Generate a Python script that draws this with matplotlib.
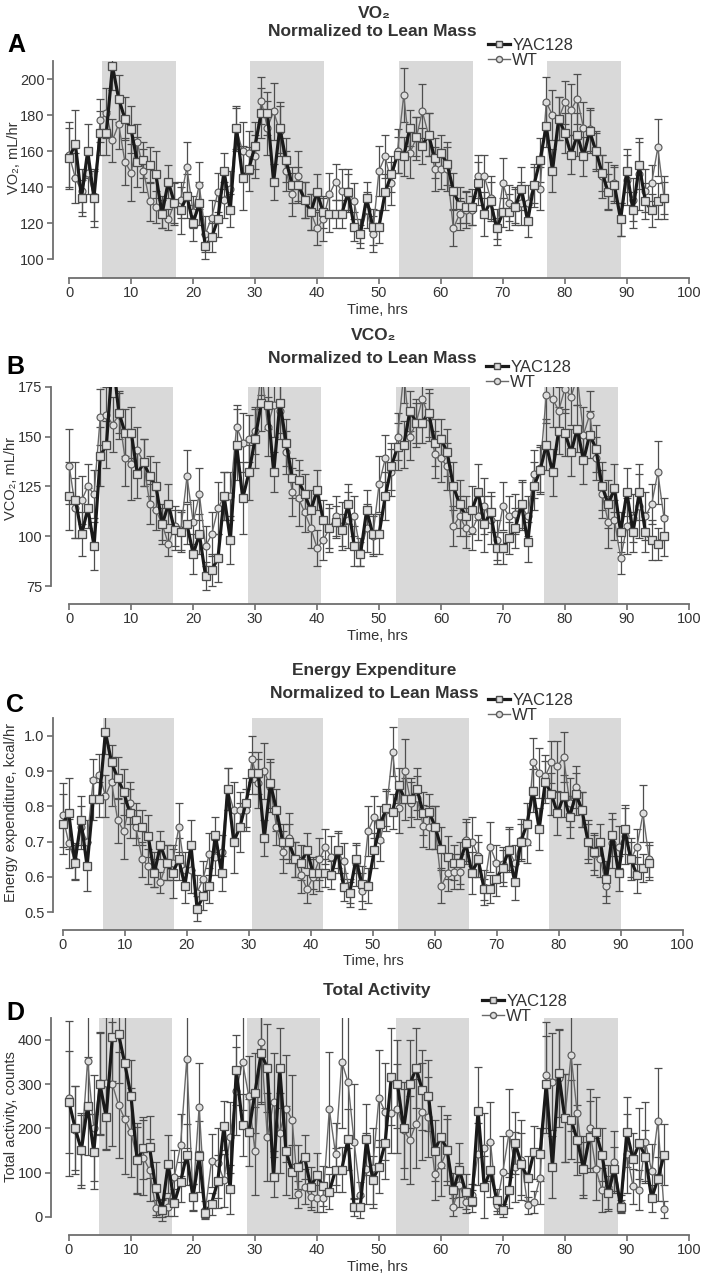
import numpy as np
import matplotlib
matplotlib.use("Agg")
import matplotlib.pyplot as plt
from matplotlib.lines import Line2D
from matplotlib.ticker import FormatStrFormatter

plt.rcParams['font.family'] = ['Liberation Sans', 'DejaVu Sans']

hours = np.arange(97)
hours_C = np.linspace(0, 94.6, 97)

dark_A = [(5.3, 17.2), (29.2, 41.1), (53.3, 65.1), (77.1, 89.0)]
dark_B = [(4.9, 16.7), (28.8, 40.6), (52.8, 64.7), (76.7, 88.5)]
dark_C = [(6.5, 18.0), (30.5, 42.0), (54.1, 65.6), (78.5, 90.0)]
dark_D = [(4.9, 16.7), (28.7, 40.5), (52.8, 64.6), (76.7, 88.5)]

vo2_yac = [156,164,134,160,134,170,170,207,189,178,
           172,154,155,152,147,125,143,131,127,135,
           120,131,107,112,122,149,127,173,145,150,
           163,181,181,143,173,155,141,141,133,126,
           137,126,125,125,125,137,118,114,134,118,
           118,137,147,158,157,173,168,163,169,156,
           159,153,138,130,129,129,142,125,132,117,
           126,126,129,139,121,141,155,174,149,178,
           170,158,169,157,171,160,148,137,141,122,
           149,127,152,132,127,132,134]
vo2_wt = [158,145,138,148,135,177,181,166,175,154,
          148,165,149,132,129,126,122,131,133,151,
          126,141,114,123,137,133,139,172,160,159,
          157,188,173,182,171,149,136,146,133,126,
          117,122,136,143,138,138,132,114,127,114,
          149,157,142,160,191,159,167,182,169,150,
          150,150,117,125,127,127,146,146,134,118,
          142,131,130,131,131,141,139,187,180,178,
          187,183,189,173,172,160,146,141,142,122,
          144,133,147,138,142,162,134]
vo2_yac_err = [17,19,10,15,16,12,12,13,13,12,
               13,14,10,10,13,8,9,12,13,12,
               10,12,7,8,10,10,9,12,18,12,
               13,14,12,10,14,12,10,10,10,10,
               10,9,10,8,8,10,8,5,9,10,
               9,10,10,10,11,10,11,10,12,11,
               10,12,10,10,9,10,12,12,11,6,
               8,10,10,12,9,10,12,12,12,12,
               11,11,12,11,12,10,10,10,10,9,
               12,10,13,10,9,10,9]
vo2_wt_err = [18,14,12,12,14,12,14,12,14,13,
              16,10,12,11,9,9,6,11,10,14,
              9,13,10,10,11,10,10,12,16,12,
              12,13,15,16,14,11,12,14,10,10,
              9,12,12,10,12,12,10,8,10,10,
              14,12,12,12,15,14,12,15,12,12,
              11,12,10,9,10,8,12,12,12,10,
              14,10,10,12,10,12,12,14,14,12,
              12,14,14,14,12,11,12,13,10,9,
              14,12,20,12,10,16,12]

vco2_yac = [120,118,101,114,95,140,146,190,162,152,
            152,131,137,130,125,106,116,103,102,106,
            91,101,80,83,89,120,98,146,119,132,
            149,167,166,132,167,147,129,128,121,113,
            123,108,104,107,103,116,95,91,113,101,
            101,120,135,145,146,163,157,157,162,147,
            149,142,125,116,110,113,122,106,112,94,
            94,99,104,116,97,125,133,146,132,153,
            152,142,154,138,151,144,125,116,124,102,
            122,102,122,102,98,96,100]
vco2_wt = [135,114,118,125,121,160,161,156,161,139,
           136,143,137,116,113,106,96,105,103,130,
           107,121,95,101,114,120,120,155,147,149,
           153,185,155,166,163,142,122,119,112,104,
           94,98,104,110,105,108,110,92,104,100,
           126,139,132,150,182,150,157,169,160,141,
           139,135,105,110,104,103,110,115,108,98,
           115,110,111,115,110,131,134,171,169,163,
           174,170,180,151,161,139,121,107,108,89,
           105,109,115,110,116,132,109]
vco2_yac_err = [17,19,11,10,12,15,12,14,10,12,
                13,12,12,10,12,8,10,10,10,10,
                10,10,7,8,12,12,12,18,18,14,
                15,14,12,10,15,12,10,10,10,10,
                10,10,10,8,8,10,10,6,10,10,
                10,12,12,12,12,10,10,10,12,12,
                10,12,12,12,10,12,14,14,10,8,
                8,8,10,12,10,12,12,13,12,12,
                12,12,12,12,12,12,12,12,12,10,
                12,10,14,10,10,8,10]
vco2_wt_err = [19,15,12,11,12,14,14,14,12,14,
               18,12,12,10,10,10,6,10,10,13,
               11,13,10,11,13,12,12,11,15,12,
               12,14,15,16,14,11,12,14,10,10,
               9,10,12,10,12,14,10,7,12,10,
               14,12,12,12,15,12,12,14,12,12,
               12,12,10,10,10,10,12,14,12,10,
               12,10,10,12,10,12,12,14,14,12,
               12,14,14,14,12,11,12,13,10,8,
               14,12,16,12,10,16,10]

ee_yac = [0.75,0.78,0.64,0.76,0.63,0.82,0.82,1.01,0.925,0.88,
          0.84,0.78,0.76,0.74,0.715,0.61,0.69,0.64,0.61,0.65,
          0.575,0.69,0.51,0.545,0.575,0.72,0.61,0.85,0.70,0.74,
          0.81,0.895,0.895,0.71,0.865,0.79,0.70,0.70,0.65,0.64,
          0.675,0.61,0.61,0.61,0.605,0.675,0.57,0.555,0.65,0.58,
          0.575,0.675,0.75,0.795,0.785,0.86,0.82,0.82,0.85,0.78,
          0.785,0.74,0.68,0.655,0.64,0.64,0.695,0.61,0.65,0.565,
          0.565,0.595,0.625,0.675,0.585,0.70,0.75,0.845,0.735,0.87,
          0.835,0.78,0.83,0.77,0.835,0.79,0.70,0.67,0.70,0.595,
          0.72,0.61,0.735,0.65,0.605,0.625,0.64]
ee_wt = [0.775,0.695,0.645,0.74,0.70,0.875,0.89,0.83,0.87,0.76,
         0.73,0.81,0.74,0.65,0.63,0.62,0.585,0.64,0.64,0.74,
         0.62,0.62,0.555,0.595,0.665,0.655,0.67,0.85,0.79,0.79,
         0.79,0.935,0.865,0.90,0.855,0.74,0.67,0.71,0.65,0.605,
         0.565,0.60,0.65,0.685,0.655,0.67,0.645,0.555,0.635,0.56,
         0.73,0.77,0.705,0.79,0.955,0.795,0.90,0.81,0.825,0.745,
         0.74,0.74,0.575,0.61,0.615,0.615,0.705,0.70,0.66,0.57,
         0.685,0.64,0.635,0.68,0.64,0.705,0.70,0.925,0.895,0.885,
         0.925,0.915,0.94,0.81,0.855,0.79,0.70,0.665,0.65,0.575,
         0.695,0.685,0.715,0.65,0.685,0.78,0.65]
ee_yac_err = [0.085,0.10,0.05,0.07,0.07,0.06,0.05,0.06,0.05,0.06,
              0.065,0.07,0.05,0.05,0.06,0.04,0.04,0.05,0.07,0.06,
              0.05,0.07,0.035,0.04,0.05,0.05,0.05,0.06,0.09,0.07,
              0.07,0.06,0.06,0.05,0.07,0.06,0.05,0.05,0.05,0.05,
              0.05,0.045,0.05,0.04,0.04,0.05,0.04,0.03,0.04,0.05,
              0.05,0.05,0.05,0.05,0.05,0.05,0.06,0.05,0.06,0.06,
              0.05,0.06,0.06,0.06,0.05,0.06,0.06,0.06,0.05,0.03,
              0.04,0.05,0.05,0.06,0.05,0.05,0.06,0.06,0.06,0.06,
              0.06,0.06,0.06,0.06,0.06,0.05,0.05,0.05,0.05,0.05,
              0.06,0.05,0.07,0.05,0.05,0.04,0.05]
ee_wt_err = [0.09,0.07,0.05,0.06,0.06,0.06,0.06,0.06,0.07,0.065,
             0.08,0.06,0.05,0.05,0.05,0.05,0.03,0.05,0.05,0.07,
             0.05,0.065,0.05,0.05,0.06,0.05,0.05,0.06,0.08,0.05,
             0.06,0.065,0.07,0.08,0.07,0.05,0.06,0.07,0.05,0.05,
             0.04,0.05,0.06,0.05,0.06,0.06,0.05,0.04,0.06,0.05,
             0.07,0.06,0.06,0.06,0.07,0.07,0.09,0.07,0.06,0.06,
             0.06,0.06,0.05,0.05,0.05,0.05,0.06,0.07,0.06,0.05,
             0.07,0.05,0.05,0.06,0.05,0.06,0.06,0.07,0.07,0.06,
             0.06,0.07,0.07,0.07,0.06,0.05,0.06,0.06,0.05,0.05,
             0.07,0.06,0.08,0.06,0.05,0.08,0.05]

act_yac = [260,200,151,251,147,300,226,407,413,347,
           274,128,155,157,65,15,119,32,79,141,
           44,137,8,30,80,206,62,332,208,191,
           280,370,336,90,336,150,102,113,136,68,
           94,70,57,106,107,175,23,23,175,83,
           113,166,317,300,200,300,336,287,274,150,
           181,152,60,106,57,35,240,68,106,38,
           15,60,166,119,87,146,142,300,113,325,
           223,220,174,109,181,192,141,53,109,23,
           192,130,166,136,42,85,141]
act_wt = [268,196,150,353,200,302,303,300,253,221,
          191,132,134,106,19,19,23,91,162,356,
          45,249,15,127,122,83,180,285,351,273,
          149,396,180,260,190,245,220,51,68,45,
          42,42,243,143,351,306,170,49,109,111,
          268,238,234,245,196,174,211,238,226,98,
          117,151,23,72,34,49,143,155,170,26,
          102,190,113,128,26,34,89,321,306,313,
          223,365,235,113,200,108,60,68,125,30,
          143,69,60,170,104,217,17]
act_yac_err = [115,95,80,110,85,115,75,100,110,120,
               80,75,70,70,60,25,65,30,45,70,
               30,80,10,25,60,55,55,80,70,75,
               90,110,100,45,90,100,60,50,50,45,
               50,45,40,50,50,70,20,25,80,55,
               60,80,110,100,90,100,90,90,80,70,
               70,70,40,60,40,25,100,70,60,25,
               15,40,70,70,50,60,60,110,70,100,
               100,90,80,60,80,80,60,40,50,15,
               80,60,80,60,30,50,70]
act_wt_err = [175,100,85,120,120,115,150,140,120,125,
              100,80,85,70,20,20,20,60,70,200,
              30,100,20,60,80,60,80,100,110,90,
              100,140,100,110,90,120,100,30,40,30,
              30,30,130,70,150,150,130,30,80,90,
              110,110,90,100,110,100,100,110,90,60,
              70,80,20,50,25,25,70,80,90,20,
              80,100,80,90,20,25,60,120,110,110,
              100,170,110,70,90,70,50,50,70,20,
              90,40,45,90,60,120,20]

W, H = 702, 1276
fig = plt.figure(figsize=(W / 100, H / 100), dpi=100)

SPINE = '#6e6e6e'
YAC_C = '#1a1a1a'
WT_C = '#6a6a6a'
ERR_C = '#4e4e4e'
FILL = '#dedede'


def add_axes(left, right, top, bottom):
    return fig.add_axes([left / W, 1 - bottom / H, (right - left) / W, (bottom - top) / H])


def panel(ax, t, yac, yac_e, wt, wt_e, shades, xlim, ylim, yticks, ybound, fmt=None):
    for a, b in shades:
        ax.axvspan(a, b, color='#d9d9d9', lw=0, zorder=0)
    ax.errorbar(t, wt, yerr=wt_e, fmt='none', ecolor=ERR_C, elinewidth=0.9,
                capsize=2.6, capthick=0.9, zorder=2)
    ax.errorbar(t, yac, yerr=yac_e, fmt='none', ecolor=ERR_C, elinewidth=0.9,
                capsize=2.6, capthick=0.9, zorder=2)
    ax.plot(t, wt, color=WT_C, lw=1.0, marker='o', ms=5.0, mfc=FILL,
            mec='#5c5c5c', mew=0.85, zorder=3)
    ax.plot(t, yac, color=YAC_C, lw=2.3, marker='s', ms=5.2, mfc=FILL,
            mec='#4c4c4c', mew=0.95, zorder=4)
    ax.set_xlim(*xlim)
    ax.set_ylim(*ylim)
    ax.set_xticks(np.arange(0, 101, 10))
    ax.set_yticks(yticks)
    if fmt:
        ax.yaxis.set_major_formatter(FormatStrFormatter(fmt))
    for s in ('top', 'right'):
        ax.spines[s].set_visible(False)
    ax.spines['left'].set_bounds(*ybound)
    ax.spines['bottom'].set_bounds(0, 100)
    for s in ('left', 'bottom'):
        ax.spines[s].set_color(SPINE)
        ax.spines[s].set_linewidth(1.3)
    ax.patch.set_alpha(0)
    ax.tick_params(direction='out', length=4, width=1.2, color=SPINE,
                   labelsize=10.5, labelcolor='#333333', pad=2)


def legend(x, y):
    h = [Line2D([], [], color=YAC_C, lw=2.3, marker='s', ms=4.8, mfc=FILL, mec='#4c4c4c'),
         Line2D([], [], color=WT_C, lw=1.0, marker='o', ms=4.4, mfc=FILL, mec='#5c5c5c')]
    fig.legend(h, ['YAC128', 'WT'], loc='upper left', bbox_to_anchor=(x / W, 1 - y / H),
               frameon=False, fontsize=12, handlelength=1.3, handletextpad=0.15,
               labelspacing=0.0, borderpad=0, borderaxespad=0, labelcolor='#333333')


def txt(x, y, s, color='#333333', **kw):
    fig.text(x / W, 1 - y / H, s, ha='center', va='center', color=color, **kw)


TF = 12.5
LF = 10.5

# Panel A
axA = add_axes(53, 695, 61, 278)
panel(axA, hours, vo2_yac, vo2_yac_err, vo2_wt, vo2_wt_err, dark_A,
      (-2.6, 101), (89.5, 210), np.arange(100, 201, 20), (100, 210))
txt(374, 13, 'VO₂', fontsize=TF, fontweight='bold')
txt(372, 32, 'Normalized to Lean Mass', fontsize=TF, fontweight='bold')
txt(16, 45, 'A', fontsize=18, fontweight='bold', color='black')
txt(377, 310, 'Time, hrs', fontsize=LF)
txt(14, 158, 'VO₂, mL/hr', fontsize=LF, rotation=90)
legend(488, 38)

# Panel B
axB = add_axes(50.7, 695, 386.7, 604)
panel(axB, hours, vco2_yac, vco2_yac_err, vco2_wt, vco2_wt_err, dark_B,
      (-3.0, 101), (66, 175), np.arange(75, 176, 25), (75, 175))
txt(374, 336, 'VCO₂', fontsize=TF, fontweight='bold')
txt(372, 359, 'Normalized to Lean Mass', fontsize=TF, fontweight='bold')
txt(15, 367, 'B', fontsize=18, fontweight='bold', color='black')
txt(377, 636, 'Time, hrs', fontsize=LF)
txt(11, 479, 'VCO₂, mL/hr', fontsize=LF, rotation=90)
legend(486, 360)

# Panel C
axC = add_axes(53, 695, 718.3, 930)
panel(axC, hours_C, ee_yac, ee_yac_err, ee_wt, ee_wt_err, dark_C,
      (-1.56, 102), (0.449, 1.05), np.arange(0.5, 1.01, 0.1), (0.5, 1.05), fmt='%.1f')
txt(374, 670, 'Energy Expenditure', fontsize=TF, fontweight='bold')
txt(374, 693, 'Normalized to Lean Mass', fontsize=TF, fontweight='bold')
txt(15, 705, 'C', fontsize=18, fontweight='bold', color='black')
txt(373, 961, 'Time, hrs', fontsize=LF)
txt(11, 812, 'Energy expenditure, kcal/hr', fontsize=LF, rotation=90)
legend(488, 693)

# Panel D
axD = add_axes(50.7, 695, 1018.3, 1235)
panel(axD, hours, act_yac, act_yac_err, act_wt, act_wt_err, dark_D,
      (-2.95, 101), (-41, 449), np.arange(0, 401, 100), (0, 449))
txt(377, 990, 'Total Activity', fontsize=TF, fontweight='bold')
txt(15, 1013, 'D', fontsize=18, fontweight='bold', color='black')
txt(377, 1267, 'Time, hrs', fontsize=LF)
txt(11, 1117, 'Total activity, counts', fontsize=LF, rotation=90)
legend(482, 994)

fig.savefig('out.png', dpi=100)
